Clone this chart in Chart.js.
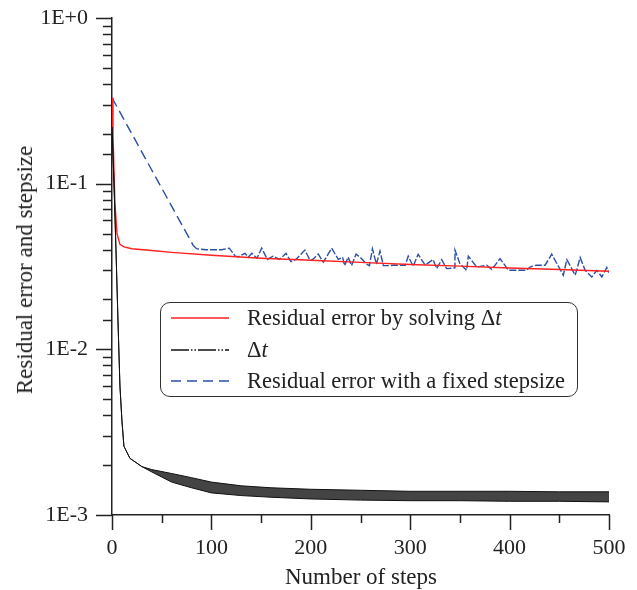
<!DOCTYPE html>
<html>
<head>
<meta charset="utf-8">
<script src="https://cdn.jsdelivr.net/npm/chart.js@4.4.1/dist/chart.umd.min.js"></script>
<style>
  body { margin: 0; background: #fff; }
  #wrap { position: relative; width: 637px; height: 590px; font-family: "Liberation Serif", "Times New Roman", serif; color: #222; }
  #yTitle { position: absolute; left: 25px; top: 270px; transform: translate(-50%, -50%) rotate(-90deg); font-size: 23px; white-space: nowrap; }
  #xTitle { position: absolute; left: 361px; top: 577px; transform: translate(-50%, -50%); font-size: 23px; white-space: nowrap; }
  #legend { position: absolute; left: 160px; top: 302px; width: 418px; height: 95px; border: 1px solid #333; border-radius: 10px; background: #fff; box-sizing: border-box; }
  .row { position: absolute; left: 10px; height: 30px; display: flex; align-items: center; font-size: 22.5px; white-space: nowrap; }
  .row svg { margin-right: 18px; }
</style>
</head>
<body>
<div id="wrap">
  <canvas id="chart" width="637" height="590"></canvas>
  <div id="yTitle">Residual error and stepsize</div>
  <div id="xTitle">Number of steps</div>
  <div id="legend">
    <div class="row" style="top:0px"><svg width="58" height="4"><line x1="0" y1="2" x2="58" y2="2" stroke="#ff2020" stroke-width="1.3"/></svg>Residual error by solving Δ<i>t</i></div>
    <div class="row" style="top:32px"><svg width="58" height="4"><line x1="0" y1="2" x2="58" y2="2" stroke="#111" stroke-width="1.3" stroke-dasharray="18,2,1.5,2,1.5,2"/></svg>Δ<i>t</i></div>
    <div class="row" style="top:63px"><svg width="58" height="4"><line x1="0" y1="2" x2="58" y2="2" stroke="#2b4ea6" stroke-width="1.3" stroke-dasharray="10,6"/></svg>Residual error with a fixed stepsize</div>
  </div>
</div>
<script>
// residual error, adaptive step (red)
const redSteps = [0, 1, 2, 3, 5, 8, 12, 20, 40, 60, 100, 150, 200, 250, 300, 350, 400, 450, 500];
const redValues = [0.33, 0.2, 0.12, 0.075, 0.05, 0.043, 0.0415, 0.0405, 0.0395, 0.0385, 0.037, 0.0355, 0.0345, 0.0335, 0.0325, 0.0318, 0.031, 0.0303, 0.0296];

// delta t (black) - drawn as the envelope of the dense oscillation
const dtSteps = [0, 2, 4, 6, 8, 10, 12, 18, 30, 40, 60, 80, 100, 130, 160, 200, 250, 300, 350, 400, 450, 500];
const dtUpper = [0.22, 0.1, 0.04, 0.015, 0.006, 0.0037, 0.0026, 0.0022, 0.00196, 0.00188, 0.00178, 0.00168, 0.00158, 0.0015, 0.00146, 0.00143, 0.00141, 0.00139, 0.00139, 0.00139, 0.00138, 0.00138];
const dtLower = [0.22, 0.1, 0.04, 0.015, 0.006, 0.0037, 0.0026, 0.0022, 0.00196, 0.00182, 0.00158, 0.00146, 0.00136, 0.00131, 0.00128, 0.00125, 0.00123, 0.00122, 0.00122, 0.00121, 0.00121, 0.0012];

// residual error, fixed step (blue dashed)
const blueSteps = [0, 81.8, 85, 95, 110, 118, 124, 127, 133.8, 137, 140.8, 145.8, 150.6, 156.3, 162, 168.6, 175, 180, 185, 194, 199.3, 202, 207.5, 212.6, 221, 227.6, 232, 234, 237.6, 241, 245.5, 251, 256, 259, 262, 266, 269.6, 273, 279, 283, 295, 298, 303, 308, 315, 323, 326.6, 331.7, 336.7, 345, 345.1, 350, 356.8, 358.5, 367, 377, 382, 390.4, 398.8, 407, 417, 420.6, 427, 435.7, 442.4, 454, 457.6, 466, 471, 476, 482.7, 487.8, 492.8, 497.8, 500];
const blueValues = [0.33, 0.0423, 0.0405, 0.0399, 0.0399, 0.0408, 0.0365, 0.0362, 0.038, 0.036, 0.038, 0.0355, 0.0408, 0.0349, 0.0365, 0.0349, 0.038, 0.0338, 0.0349, 0.0397, 0.0344, 0.0349, 0.0376, 0.0336, 0.0408, 0.0349, 0.036, 0.032, 0.036, 0.032, 0.0376, 0.0353, 0.0327, 0.032, 0.0404, 0.0327, 0.0392, 0.032, 0.032, 0.0322, 0.0322, 0.0365, 0.0317, 0.0375, 0.0322, 0.0348, 0.0307, 0.0348, 0.0307, 0.031, 0.0397, 0.0329, 0.03, 0.0365, 0.0314, 0.0322, 0.0303, 0.0353, 0.03, 0.03, 0.03, 0.0314, 0.0322, 0.0322, 0.0375, 0.028, 0.0348, 0.028, 0.0358, 0.03, 0.02735, 0.03, 0.02735, 0.0312, 0.029];

const xTickLabels = [0, 100, 200, 300, 400, 500];
const yTickLabels = { 1: '1E+0', 0.1: '1E-1', 0.01: '1E-2', 0.001: '1E-3' };

function pts(xs, ys) {
    return xs.map((x, i) => ({ x: x, y: ys[i] }));
}

function isDecade(v) {
    const l = Math.log10(v);
    return Math.abs(l - Math.round(l)) < 1e-9;
}

// hand-drawn tick marks: long for labelled ticks, short for the rest
const tickMarks = {
    id: 'tickMarks',
    afterDraw(chart) {
        const ctx = chart.ctx;
        const area = chart.chartArea;
        const xs = chart.scales.x, ys = chart.scales.y;
        ctx.save();
        ctx.strokeStyle = '#222';
        ctx.lineWidth = 1.5;
        ctx.beginPath();
        ys.ticks.forEach(t => {
            const py = Math.round(ys.getPixelForValue(t.value)) + 0.5;
            const len = isDecade(t.value) ? 16 : 9;
            ctx.moveTo(area.left - len, py);
            ctx.lineTo(area.left, py);
        });
        xs.ticks.forEach(t => {
            const px = Math.round(xs.getPixelForValue(t.value)) + 0.5;
            const len = xTickLabels.includes(t.value) ? 15 : 8;
            ctx.moveTo(px, area.bottom);
            ctx.lineTo(px, area.bottom + len);
        });
        ctx.stroke();
        ctx.restore();
    }
};

new Chart(document.getElementById('chart'), {
    type: 'line',
    data: {
        datasets: [
            {
                label: 'dt upper',
                data: pts(dtSteps, dtUpper),
                borderColor: '#111',
                borderWidth: 1,
                pointRadius: 0,
                fill: false
            },
            {
                label: 'dt lower',
                data: pts(dtSteps, dtLower),
                borderColor: '#111',
                borderWidth: 1,
                pointRadius: 0,
                backgroundColor: 'rgba(35,35,35,0.85)',
                fill: '-1'
            },
            {
                label: 'Residual error by solving dt',
                data: pts(redSteps, redValues),
                borderColor: '#ff2020',
                borderWidth: 1.4,
                pointRadius: 0,
                fill: false
            },
            {
                label: 'Residual error with a fixed stepsize',
                data: pts(blueSteps, blueValues),
                borderColor: '#2b4ea6',
                borderWidth: 1.4,
                borderDash: [10, 5],
                // the dashes look almost solid where the line zigzags
                segment: { borderDash: c => c.p0.parsed.x >= 80 ? [7, 2] : undefined },
                pointRadius: 0,
                fill: false
            }
        ]
    },
    options: {
        responsive: false,
        animation: false,
        layout: { padding: { left: 0, top: 18, right: 28, bottom: 0 } },
        plugins: { legend: { display: false }, tooltip: { enabled: false } },
        elements: { line: { tension: 0 } },
        scales: {
            x: {
                type: 'linear',
                min: 0,
                max: 500,
                grid: { display: false, drawTicks: false },
                border: { display: true, color: '#222', width: 1.5 },
                afterFit: s => { s.height = 75; s.paddingLeft = 0; s.paddingRight = 0; },
                ticks: {
                    stepSize: 50,
                    autoSkip: false,
                    maxRotation: 0,
                    padding: 20,
                    color: '#222',
                    font: { family: 'Liberation Serif', size: 22 },
                    callback: v => xTickLabels.includes(v) ? String(v) : ''
                }
            },
            y: {
                type: 'logarithmic',
                min: 0.001,
                max: 1,
                grid: { display: false, drawTicks: false },
                border: { display: true, color: '#222', width: 1.5 },
                afterFit: s => { s.width = 112; s.paddingTop = 0; s.paddingBottom = 0; },
                ticks: {
                    autoSkip: false,
                    padding: 24,
                    color: '#222',
                    font: { family: 'Liberation Serif', size: 22 },
                    callback: v => isDecade(v) ? yTickLabels[Number(v.toPrecision(1))] : ''
                }
            }
        }
    },
    plugins: [tickMarks]
});
</script>
</body>
</html>
